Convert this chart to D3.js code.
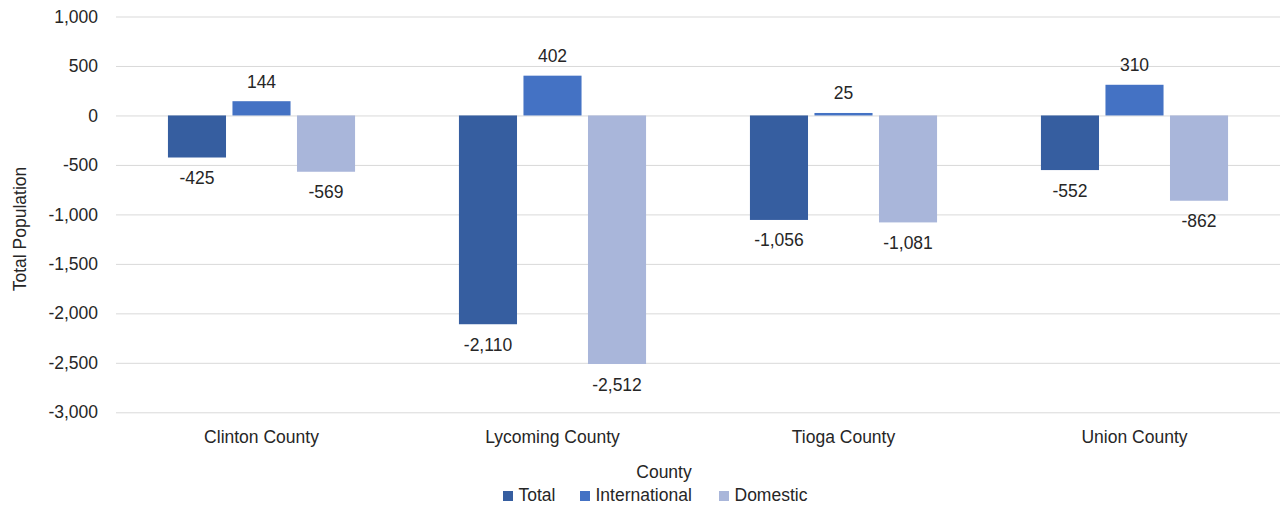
<!DOCTYPE html>
<html>
<head>
<meta charset="utf-8">
<script src="https://cdn.jsdelivr.net/npm/d3@7"></script>
<style>
  html, body { margin: 0; padding: 0; background: #fff; }
  svg { display: block; font-family: "Liberation Sans", Arial, sans-serif; }
</style>
</head>
<body>
<svg id="chart" width="1281" height="508"></svg>
<script>
const categories = ["Clinton County", "Lycoming County", "Tioga County", "Union County"];
const seriesNames = ["Total", "International", "Domestic"];
const totalValues = [-425, -2110, -1056, -552];
const internationalValues = [144, 402, 25, 310];
const domesticValues = [-569, -2512, -1081, -862];
const yTicks = [1000, 500, 0, -500, -1000, -1500, -2000, -2500, -3000];
const colors = ["#365EA0", "#4472C4", "#A9B6DA"];

const seriesValues = [totalValues, internationalValues, domesticValues];
const data = categories.map((c, i) => ({
  category: c,
  values: seriesNames.map((s, j) => ({ series: s, value: seriesValues[j][i], color: colors[j] }))
}));

const svg = d3.select("#chart");
const plotLeft = 116, plotRight = 1280, plotTop = 16.5, plotBottom = 412.3;

const x0 = d3.scaleBand().domain(categories).range([plotLeft, plotRight]).paddingInner(0.357).paddingOuter(0.1785);
const x1 = d3.scaleBand().domain(seriesNames).range([0, x0.bandwidth()]).paddingInner(0.1).paddingOuter(0);
const y = d3.scaleLinear().domain([-3000, 1000]).range([plotBottom, plotTop]);

const fmtBase = d3.format(",");
const fmt = v => fmtBase(v).replace("\u2212", "-");
const fontSize = 17.5;
const textColor = "#262626";

// gridlines via axis
const grid = svg.append("g")
  .attr("transform", `translate(${plotLeft},0)`)
  .call(d3.axisLeft(y).tickValues(yTicks).tickSize(-(plotRight - plotLeft)).tickFormat(""));
grid.select(".domain").remove();
grid.selectAll("line").attr("stroke", "#D9D9D9").attr("stroke-width", 1);

// y tick labels
const yAxis = svg.append("g")
  .attr("transform", `translate(${plotLeft},0)`)
  .call(d3.axisLeft(y).tickValues(yTicks).tickSize(0).tickPadding(18).tickFormat(fmt));
yAxis.select(".domain").remove();
yAxis.attr("font-family", null).attr("font-size", null);
yAxis.selectAll("text").attr("font-size", fontSize).attr("fill", textColor);

// x category labels
const xAxis = svg.append("g")
  .attr("transform", `translate(0,${plotBottom})`)
  .call(d3.axisBottom(x0).tickSize(0).tickPadding(18));
xAxis.select(".domain").remove();
xAxis.attr("font-family", null).attr("font-size", null);
xAxis.selectAll("text").attr("font-size", fontSize).attr("fill", textColor);

// bars
const groups = svg.append("g").selectAll("g").data(data).join("g")
  .attr("transform", d => `translate(${x0(d.category)},0)`);

groups.selectAll("rect").data(d => d.values).join("rect")
  .attr("x", d => x1(d.series))
  .attr("width", x1.bandwidth())
  .attr("y", d => y(Math.max(0, d.value)))
  .attr("height", d => Math.abs(y(d.value) - y(0)))
  .attr("fill", d => d.color);

groups.selectAll("text").data(d => d.values).join("text")
  .attr("x", d => x1(d.series) + x1.bandwidth() / 2)
  .attr("y", d => d.value >= 0 ? y(d.value) - 13.5 : y(d.value) + 26.5)
  .attr("text-anchor", "middle")
  .attr("font-size", fontSize)
  .attr("fill", textColor)
  .text(d => fmt(d.value));

// axis titles
svg.append("text")
  .attr("transform", `translate(26,229) rotate(-90)`)
  .attr("text-anchor", "middle")
  .attr("font-size", fontSize)
  .attr("fill", textColor)
  .text("Total Population");

svg.append("text")
  .attr("x", 664)
  .attr("y", 478)
  .attr("text-anchor", "middle")
  .attr("font-size", fontSize)
  .attr("fill", textColor)
  .text("County");

// legend
const legendX = [503, 580, 719];
const legend = svg.append("g").selectAll("g").data(seriesNames).join("g")
  .attr("transform", (d, i) => `translate(${legendX[i]},491)`);
legend.append("rect").attr("width", 10).attr("height", 10).attr("fill", (d, i) => colors[i]);
legend.append("text")
  .attr("x", 15.5).attr("y", 10)
  .attr("font-size", fontSize)
  .attr("fill", textColor)
  .text(d => d);
</script>
</body>
</html>
